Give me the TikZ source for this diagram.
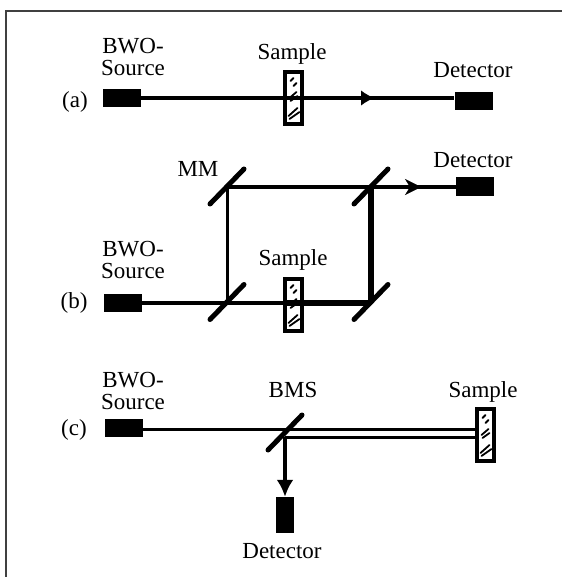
\documentclass[tikz,border=0pt]{standalone}
\usepackage{fontspec}
\setmainfont{Liberation Serif}
\usetikzlibrary{arrows.meta,calc}
\tikzset{
  lbl/.style={inner sep=0pt,anchor=base,font=\fontsize{23}{23}\selectfont},
  twolbl/.style={inner sep=0pt,anchor=center,align=center,font=\fontsize{23}{23}\selectfont},
  block/.style={fill=black,draw=none,inner sep=0pt,minimum width=#1},
  block/.default=38pt,
  samplebox/.style={draw=black,line width=4pt,fill=none,inner sep=0pt,minimum width=17pt,minimum height=52pt},
  mirror/.style={line width=5pt,line cap=round},
  beam/.style={line width=3.6pt},
  thinbeam/.style={line width=3pt},
  thickbeam/.style={line width=6pt},
  hatch/.style={line width=1.8pt,line cap=round},
  tipA/.style={-{Latex[length=13pt,width=15pt]}},
  tipB/.style={-{Stealth[length=16pt,width=16pt,inset=5pt]}},
}
\newcommand{\samplemarks}[1]{%
  \draw[hatch] ($(#1)+(-3,-17)$)--($(#1)+(0,-20)$);
  \draw[hatch] ($(#1)+(0,-12)$)--($(#1)+(3,-15)$);
  \draw[hatch] ($(#1)+(-4,0)$)--($(#1)+(3,-6)$);
  \draw[hatch] ($(#1)+(-3,3)$)--($(#1)+(4,-2)$);
  \draw[hatch] ($(#1)+(-5,18)$)--($(#1)+(4,10)$);
  \draw[hatch] ($(#1)+(-4,21)$)--($(#1)+(6,14)$);
}
\newcommand{\mirrorat}[1]{%
  \draw[mirror] ($(#1)+(-17,17)$)--($(#1)+(17,-18)$);
}
\begin{document}
\begin{tikzpicture}[x=1pt,y=-1pt]
\useasboundingbox (0,0) rectangle (562,577);
\fill[white] (0,0) rectangle (562,577);
\coordinate (fa) at (6,577); \coordinate (fb) at (6,11); \coordinate (fc) at (562,11);
\draw[line width=1.6pt,draw=black!75,line join=miter] (fa)--(fb)--(fc);

% (a)
\node[block,minimum height=18pt] (srcA) at (121.5,98) {};
\node[block,minimum height=18pt] (detA) at (473.5,101) {};
\node[samplebox] (samA) at (293.5,98) {};
\coordinate (tipa) at (374,98);
\draw[beam] (srcA.east)--(srcA.east-|detA.west);
\draw[tipA] (361,98)--(tipa);
\samplemarks{samA}
\node[twolbl] (lbsA) at (133,57) {BWO-\\[-1pt]Source};
\node[lbl] (lsamA) at (292,60) {Sample};
\node[lbl] (ldetA) at (473,78) {Detector};
\node[lbl] (lA) at (75,108) {(a)};

% (b)
\node[block,minimum height=18pt] (srcB) at (123,303) {};
\node[block,minimum height=19pt] (detB) at (475,187) {};
\node[samplebox,minimum height=52pt] (samB) at (293.5,305) {};
\coordinate (mLL) at (227,302.5);
\coordinate (mUL) at (227,187);
\coordinate (mUR) at (371,187);
\coordinate (mLR) at (371,302.5);
\coordinate (tipb) at (421,187);
\draw[beam] (srcB.east)--(srcB.east-|mLL);
\draw[thinbeam] (mLL)--(mUL);
\draw[beam] (mUL)--(mUR)--(detB.west);
\draw[thickbeam] (mUR)--(mLR);
\draw[line width=4pt] (mLL)--(mLL-|samB.west);
\draw[thickbeam] (mLL-|samB.west)--(mLR);
\draw[tipB] (405,187)--(tipb);
\mirrorat{mLL}\mirrorat{mUL}\mirrorat{mUR}\mirrorat{mLR}
\samplemarks{samB}
\node[twolbl] (lbsB) at (133,260) {BWO-\\[-1pt]Source};
\node[lbl] (lsamB) at (293,265) {Sample};
\node[lbl] (ldetB) at (473,168) {Detector};
\node[lbl] (lMM) at (198,177) {MM};
\node[lbl] (lB) at (74,308) {(b)};

% (c)
\node[block,minimum height=18pt] (srcC) at (124,428) {};
\node[block=18pt,minimum height=36pt] (detC) at (285,515) {};
\node[samplebox,minimum height=52pt] (samC) at (485.5,435) {};
\coordinate (mC) at (285,433);
\coordinate (mCa) at (285,429);
\coordinate (mCb) at (285,437);
\draw[thinbeam] (srcC.east|-mCa)--(mCa)--(mCa-|samC.west);
\draw[thinbeam] (mCb)--(mCb-|samC.west);
\draw[beam,-{Latex[length=17pt,width=17pt]}] (mCb)--(detC.north);
\mirrorat{mC}
\samplemarks{samC}
\node[twolbl] (lbsC) at (133,391) {BWO-\\[-1pt]Source};
\node[lbl] (lbms) at (293,397) {BMS};
\node[lbl] (lsamC) at (483,397) {Sample};
\node[lbl] (ldetC) at (282,558) {Detector};
\node[lbl] (lC) at (74,435) {(c)};
\end{tikzpicture}
\end{document}
